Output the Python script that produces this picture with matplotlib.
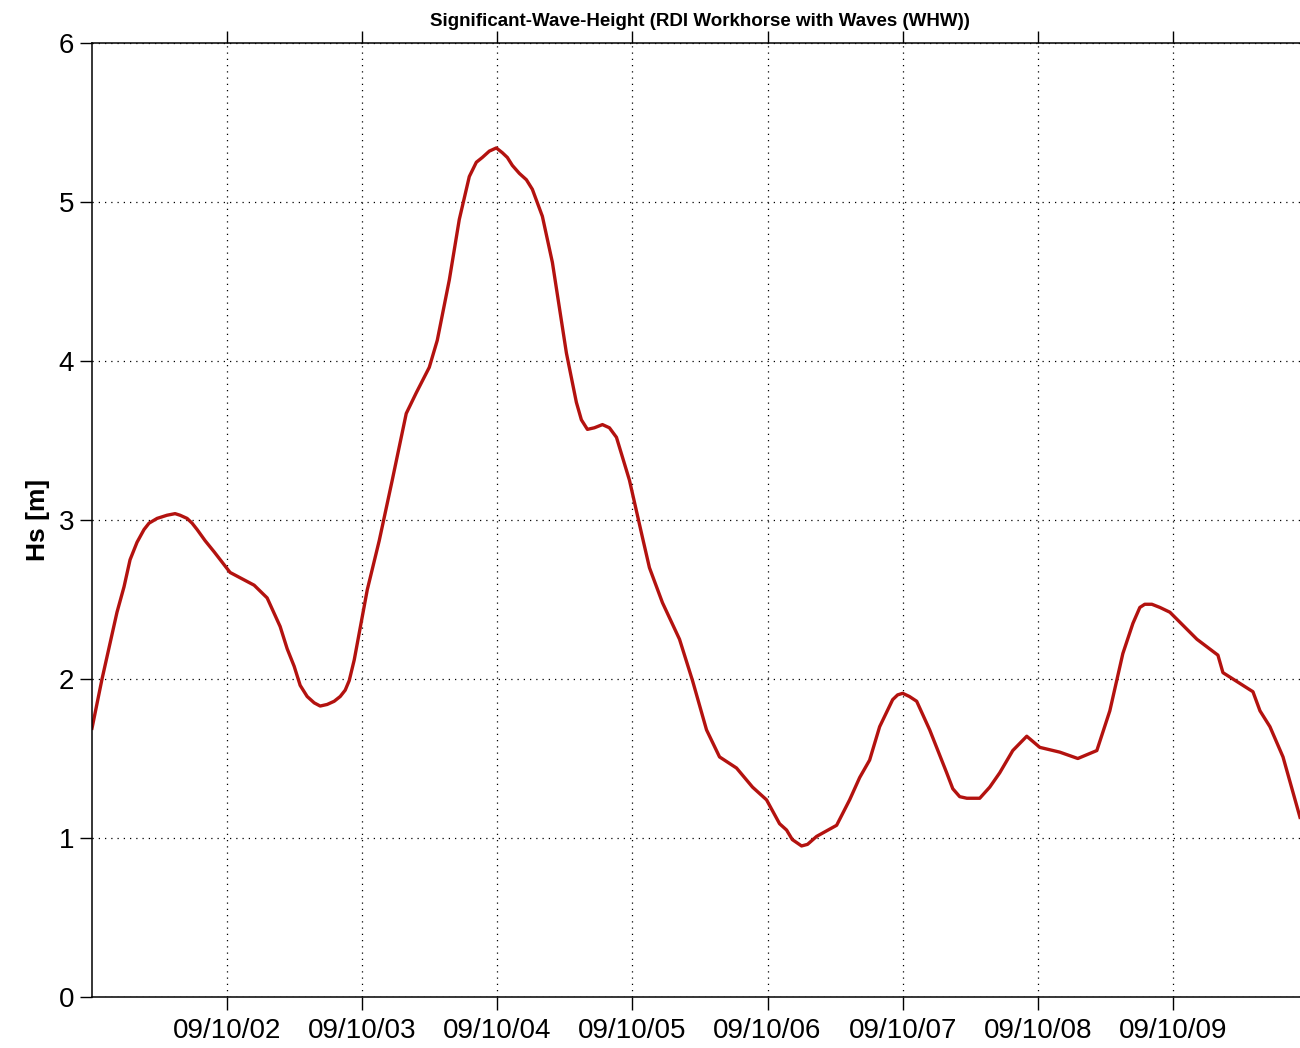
import numpy as np
import pandas as pd
import matplotlib
import matplotlib.pyplot as plt
import matplotlib.dates as mdates
matplotlib.use('Agg')

plt.rcParams['font.family'] = ['Liberation Sans', 'DejaVu Sans']

# hours after 2009-10-01 00:00 and significant wave height [m]
hours = [0.0, 1.78, 4.44, 5.69, 6.76, 8.0, 9.24, 10.13, 11.56, 13.33,
         14.76, 15.64, 16.89, 17.78, 18.67, 20.09, 21.69, 24.53, 28.8, 31.11,
         33.42, 34.67, 35.91, 36.98, 38.22, 39.47, 40.53, 41.78, 43.02, 44.09,
         44.98, 45.69, 46.58, 48.89, 51.02, 53.33, 55.82, 57.6, 59.91, 61.33,
         63.47, 65.24, 67.02, 68.27, 69.33, 70.58, 71.82, 72.89, 73.78, 74.67,
         75.91, 77.16, 78.22, 80.0, 81.78, 84.27, 86.04, 86.93, 88.0, 89.24,
         90.67, 91.91, 93.16, 95.47, 97.78, 99.02, 101.33, 104.36, 106.67, 109.16,
         111.47, 114.49, 117.33, 119.82, 122.13, 123.38, 124.4, 126.04, 127.1, 128.71,
         132.27, 134.58, 136.36, 138.13, 139.91, 142.22, 143.1, 144.0, 145.2, 146.49,
         148.8, 151.82, 152.9, 154.13, 155.4, 157.69, 159.47, 161.24, 163.56, 166.04,
         168.36, 171.91, 175.11, 178.49, 180.8, 183.11, 184.9, 186.13, 187.0, 188.27,
         189.7, 191.47, 196.27, 200.0, 200.89, 206.22, 207.47, 209.24, 211.56, 214.58]
hs = [1.69, 2.00, 2.42, 2.58, 2.75, 2.86, 2.94, 2.98, 3.01, 3.03,
      3.04, 3.03, 3.01, 2.98, 2.94, 2.87, 2.80, 2.67, 2.59, 2.51,
      2.33, 2.19, 2.08, 1.96, 1.89, 1.85, 1.83, 1.84, 1.86, 1.89,
      1.93, 1.99, 2.12, 2.56, 2.87, 3.25, 3.67, 3.80, 3.96, 4.13,
      4.51, 4.89, 5.16, 5.25, 5.28, 5.32, 5.34, 5.31, 5.28, 5.23,
      5.18, 5.14, 5.08, 4.91, 4.62, 4.05, 3.74, 3.63, 3.57, 3.58,
      3.60, 3.58, 3.52, 3.25, 2.89, 2.70, 2.48, 2.25, 1.99, 1.68,
      1.51, 1.44, 1.32, 1.24, 1.09, 1.05, 0.99, 0.95, 0.96, 1.01,
      1.08, 1.24, 1.38, 1.49, 1.70, 1.87, 1.90, 1.91, 1.89, 1.86,
      1.68, 1.41, 1.31, 1.26, 1.25, 1.25, 1.32, 1.41, 1.55, 1.64,
      1.57, 1.54, 1.50, 1.55, 1.80, 2.16, 2.35, 2.45, 2.47, 2.47,
      2.45, 2.42, 2.25, 2.15, 2.04, 1.92, 1.80, 1.70, 1.51, 1.13]

start = pd.Timestamp('2009-10-01')
t = start + pd.to_timedelta(hours, unit='h')
day_ticks = pd.date_range('2009-10-02', '2009-10-09', freq='D')

fig = plt.figure(figsize=(13, 10.48), dpi=100)
ax = fig.add_axes([92 / 1300, 51 / 1048, 1216 / 1300, 954 / 1048])

ax.plot(t, hs, color='#b3120f', lw=2.4, solid_joinstyle='round')

ax.set_xlim(start, pd.Timestamp('2009-10-10'))
ax.set_ylim(0, 6)
ax.set_xticks(day_ticks)
ax.xaxis.set_major_formatter(mdates.DateFormatter('%y/%m/%d'))
ax.set_yticks(np.arange(0, 7, 1))

ax.grid(True, color='black', linestyle=(0, (1, 4)), lw=0.9)
ax.tick_params(axis='both', direction='out', length=9, width=1, labelsize=20,
               top=True)
ax.tick_params(axis='y', pad=4)
ax.tick_params(axis='x', pad=6)
for s in ax.spines.values():
    s.set_linewidth(1.1)

ax.set_ylabel('Hs [m]', fontsize=19, fontweight='bold', labelpad=6)
ax.set_title('Significant-Wave-Height (RDI Workhorse with Waves (WHW))',
             fontsize=13.5, fontweight='bold', pad=12)

fig.savefig('out.png', dpi=100)
